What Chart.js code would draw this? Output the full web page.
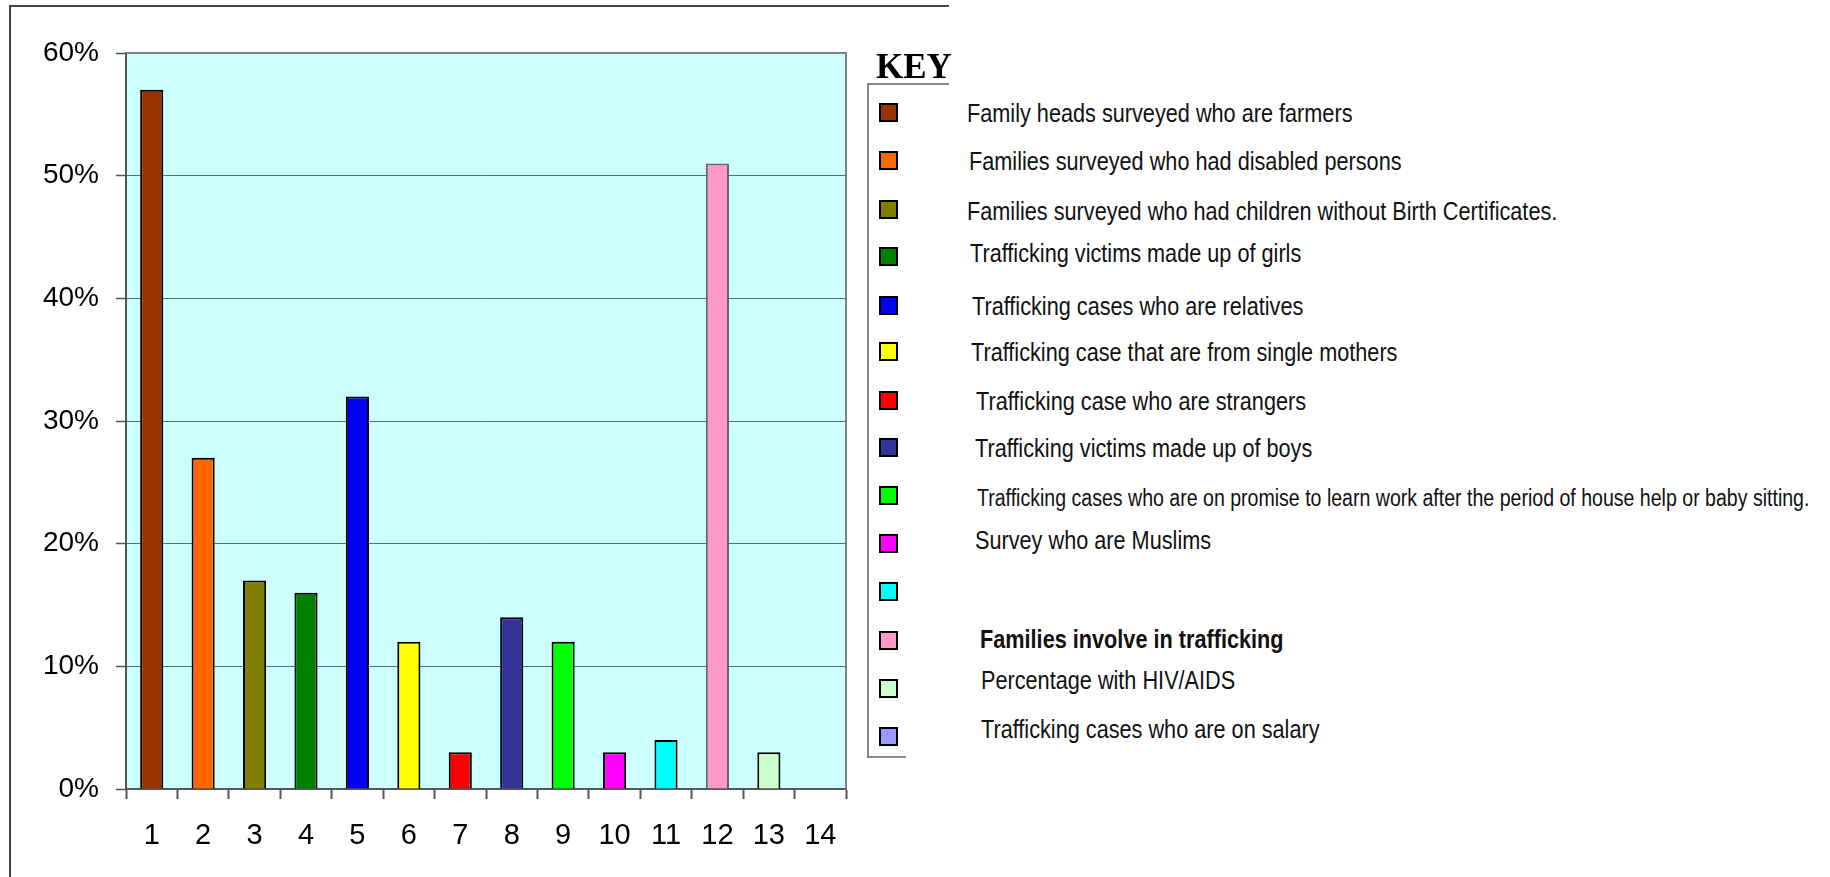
<!DOCTYPE html>
<html>
<head>
<meta charset="utf-8">
<script src="https://cdn.jsdelivr.net/npm/chart.js@4/dist/chart.umd.min.js"></script>
<style>
  html, body { margin: 0; padding: 0; background: #fff; width: 1830px; height: 877px; overflow: hidden; }
  #wrap { position: relative; width: 1830px; height: 877px; }
  #c { position: absolute; left: 0; top: 0; }
  .line { position: absolute; }
  .key-title { position: absolute; font-family: "Liberation Serif", "Times New Roman", serif; font-weight: bold; font-size: 35px; line-height: 1; color: #000; white-space: nowrap; }
  .sw { position: absolute; box-sizing: border-box; border: 2px solid #000; }
  .lt { position: absolute; font-family: "Liberation Sans", Arial, sans-serif; line-height: 1; color: #111; white-space: nowrap; transform-origin: 0 0; }
</style>
</head>
<body>
<div id="wrap">
  <canvas id="c" width="900" height="877"></canvas>
</div>
<script>
// ---- data ----
const categories = ['1','2','3','4','5','6','7','8','9','10','11','12','13','14'];
const values = [57, 27, 17, 16, 32, 12, 3, 14, 12, 3, 4, 51, 3, 0];
const barColors = ['#993300','#FF6600','#808000','#008000','#0000FF','#FFFF00','#FF0000',
                   '#333399','#00FF00','#FF00FF','#00FFFF','#FF99CC','#CCFFCC','#9999FF'];
const keyLabels = [
  'Family heads surveyed who are farmers',
  'Families surveyed who had disabled persons',
  'Families surveyed who had children without Birth Certificates.',
  'Trafficking victims made up of girls',
  'Trafficking cases who are relatives',
  'Trafficking case that are from single mothers',
  'Trafficking case who are strangers',
  'Trafficking victims made up of boys',
  'Trafficking cases who are on promise to learn work after the period of house help or baby sitting.',
  'Survey who are Muslims',
  '',
  'Families involve in trafficking',
  'Percentage with HIV/AIDS',
  'Trafficking cases who are on salary'
];
const yTickValues = [0, 10, 20, 30, 40, 50, 60];

// ---- layout (styling only) ----
const swatchCenters = [112,160,209,256,305,351,400,447,495,543,591,640,688,736];
const textLeft     = [967,969,967,970,972,971,976,975,977,975,975,980,981,981];
const textBaseline = [123,171,221,263,316,362,411,458,506,550,598,649,690,739];
const textSize     = [25.5,25.5,25.5,25.5,25.5,25.5,25.5,25.5,23,25.5,25.5,25.5,25.5,25.5];
const textBold     = [0,0,0,0,0,0,0,0,0,0,0,1,0,0];

const wrap = document.getElementById('wrap');
function addLine(l, t, w, h, color) {
  const d = document.createElement('div');
  d.className = 'line';
  d.style.left = l + 'px'; d.style.top = t + 'px';
  d.style.width = w + 'px'; d.style.height = h + 'px';
  d.style.background = color;
  wrap.appendChild(d);
}
// outer frame (top + left)
addLine(9, 5, 940, 2, '#444');
addLine(9, 5, 2, 872, '#444');
// legend box
addLine(867, 83, 82, 2, '#888');
addLine(867, 83, 2, 675, '#888');
addLine(867, 756, 39, 2, '#888');

// KEY title
const kt = document.createElement('div');
kt.className = 'key-title';
kt.textContent = 'KEY';
kt.style.left = '876px';
kt.style.top = (78.5 - 0.8375 * 35) + 'px';
wrap.appendChild(kt);

// legend items
keyLabels.forEach((lab, i) => {
  const sw = document.createElement('div');
  sw.className = 'sw';
  sw.style.left = '879px';
  sw.style.top = (swatchCenters[i] - 9.5) + 'px';
  sw.style.width = '19px';
  sw.style.height = '19px';
  sw.style.background = barColors[i];
  wrap.appendChild(sw);
  if (lab) {
    const t = document.createElement('div');
    t.className = 'lt';
    t.textContent = lab;
    const fs = textSize[i];
    t.style.fontSize = fs + 'px';
    t.style.left = textLeft[i] + 'px';
    t.style.top = (textBaseline[i] - 0.8465 * fs) + 'px';
    if (textBold[i]) t.style.fontWeight = 'bold';
    t.style.transform = 'scaleX(0.85)';
    wrap.appendChild(t);
  }
});

// ---- chart ----
const plotBg = {
  id: 'plotBg',
  beforeDraw(chart) {
    const { ctx, chartArea: { left, top, right, bottom } } = chart;
    ctx.save();
    ctx.fillStyle = '#CCFFFF';
    ctx.fillRect(left, top, right - left, bottom - top);
    ctx.restore();
  },
  afterDraw(chart) {
    const { ctx, chartArea: { left, top, right, bottom } } = chart;
    ctx.save();
    ctx.strokeStyle = '#808080';
    ctx.lineWidth = 2;
    ctx.beginPath();
    ctx.moveTo(left, top);
    ctx.lineTo(right, top);
    ctx.lineTo(right, bottom);
    ctx.stroke();
    ctx.restore();
  }
};

const borderColors = barColors.map((c, i) => i === 11 ? '#666' : '#000');

new Chart(document.getElementById('c'), {
  type: 'bar',
  data: {
    labels: categories,
    datasets: [{
      data: values,
      backgroundColor: barColors,
      borderColor: borderColors,
      borderWidth: 2,
      barPercentage: 0.45,
      categoryPercentage: 1
    }]
  },
  options: {
    responsive: false,
    animation: false,
    devicePixelRatio: 1,
    layout: { padding: { top: 53, right: 54, left: 0, bottom: 0 } },
    plugins: { legend: { display: false }, tooltip: { enabled: false } },
    scales: {
      x: {
        grid: { offset: true, drawOnChartArea: false, drawTicks: true, tickLength: 10, tickColor: '#555', tickWidth: 2 },
        border: { color: '#555', width: 2 },
        ticks: { font: { family: '"Liberation Sans", Arial, sans-serif', size: 29 }, color: '#000', padding: 20, maxRotation: 0, autoSkip: false },
        afterFit: s => { s.height = 88; }
      },
      y: {
        min: 0, max: 60,
        afterBuildTicks: s => { s.ticks = yTickValues.map(v => ({ value: v })); },
        ticks: { font: { family: '"Liberation Sans", Arial, sans-serif', size: 28 }, color: '#000', padding: 17, callback: v => v + '%' },
        grid: { color: '#666', lineWidth: 1, drawTicks: true, tickLength: 10, tickColor: '#555', tickWidth: 1.5 },
        border: { color: '#555', width: 2 },
        afterFit: s => { s.width = 126; }
      }
    }
  },
  plugins: [plotBg]
});
</script>
</body>
</html>
